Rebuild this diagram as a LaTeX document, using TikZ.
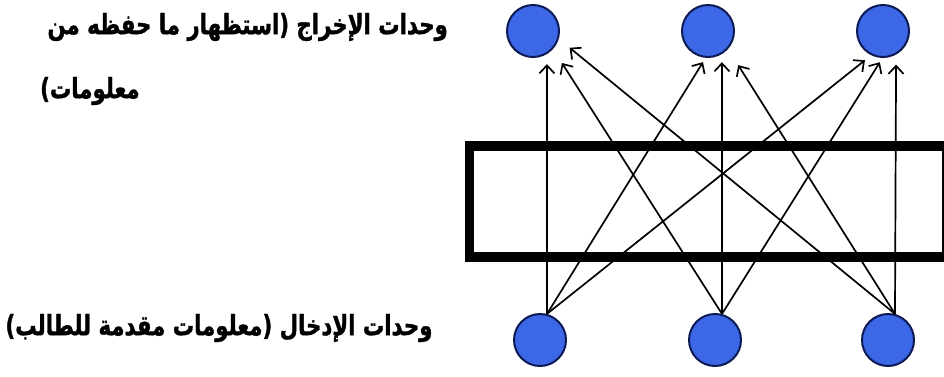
\documentclass[tikz,border=0pt]{standalone}
\usepackage{fontspec}
\newfontfamily\arabicfont[Script=Arabic, FakeStretch=0.76, BoldFeatures={FakeBold=1.2}]{DejaVu Sans}
\TeXXeTstate=1
\usetikzlibrary{arrows.meta}
\definecolor{unitblue}{RGB}{60,104,232}
\definecolor{unitedge}{RGB}{12,26,84}

\begin{document}
\begin{tikzpicture}[
    x=1pt, y=-1pt,
    unit/.style={circle, draw=unitedge, fill=unitblue, line width=2pt, minimum size=52pt, inner sep=0pt},
    layerbox/.style={rectangle, draw=black, line width=9.5pt, minimum width=477.5pt, minimum height=111pt, inner sep=0pt},
    link/.style={draw=black, line width=1.7pt, -{Straight Barb[length=8pt, width=15pt]}},
    lbl/.style={font=\arabicfont\bfseries\fontsize{28}{32}\selectfont, inner sep=0pt}
]
\useasboundingbox (0,0) rectangle (944,377);

% Hidden layer box
\node[layerbox] (hidden) at (708.25,201.5) {};

% Output units (top)
\node[unit] (out1) at (533,31) {};
\node[unit] (out2) at (708,31) {};
\node[unit] (out3) at (883,31) {};

% Input units (bottom)
\node[unit] (in1) at (540,340) {};
\node[unit] (in2) at (715,340) {};
\node[unit] (in3) at (888,340) {};

% Labels
\node[lbl, anchor=east] (outtxt) at (448,27) {\beginR وحدات الإخراج (استظهار ما حفظه من\endR};
\node[lbl, anchor=west] (outtxt2) at (40,91) {\beginR معلومات)\endR};
\node[lbl] (intxt) at (219,328) {\beginR وحدات الإدخال (معلومات مقدمة للطالب)\endR};

% Connections
\draw[link, shorten >=10pt] (in1.75) -- (out1.-59);
\draw[link, shorten >=5pt] (in1.75) -- (out2.-95);
\draw[link, shorten >=8pt] (in1.75) -- (out3.-116);
\draw[link, shorten >=16.5pt] (in2.75) -- (out1.-42);
\draw[link, shorten >=8pt] (in2.75) -- (out2.-59);
\draw[link, shorten >=5pt] (in2.75) -- (out3.-91);
\draw[link, shorten >=14pt] (in3.75) -- (out1.-17);
\draw[link, shorten >=19pt] (in3.75) -- (out2.-42);
\draw[link, shorten >=10pt] (in3.75) -- (out3.-61);

\end{tikzpicture}
\end{document}
